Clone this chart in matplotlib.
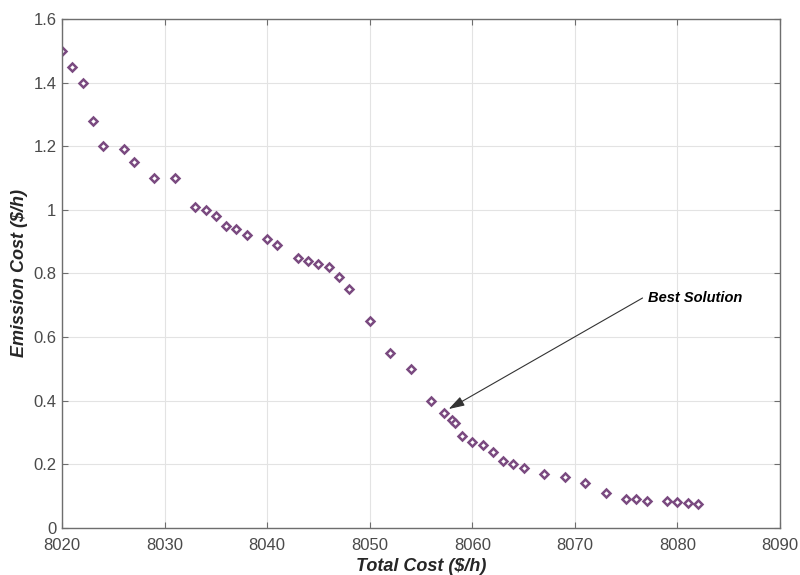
import matplotlib
matplotlib.use("Agg")
from matplotlib import pyplot as plt
from matplotlib.ticker import FormatStrFormatter

# Pareto front: total cost vs emission cost
total_cost = [8020, 8021, 8022, 8023, 8024, 8026, 8027, 8029, 8031, 8033,
              8034, 8035, 8036, 8037, 8038, 8040, 8041, 8043, 8044, 8045,
              8046, 8047, 8048, 8050, 8052, 8054, 8056, 8057.2, 8058, 8058.3,
              8059, 8060, 8061, 8062, 8063, 8064, 8065, 8067, 8069, 8071,
              8073, 8075, 8076, 8077, 8079, 8080, 8081, 8082]
emission_cost = [1.50, 1.45, 1.40, 1.28, 1.20, 1.19, 1.15, 1.10, 1.10, 1.01,
                 1.00, 0.98, 0.95, 0.94, 0.92, 0.91, 0.89, 0.85, 0.84, 0.83,
                 0.82, 0.79, 0.75, 0.65, 0.55, 0.50, 0.40, 0.36, 0.34, 0.33,
                 0.29, 0.27, 0.26, 0.24, 0.21, 0.20, 0.19, 0.17, 0.16, 0.14,
                 0.11, 0.09, 0.09, 0.085, 0.085, 0.082, 0.08, 0.075]
best_idx = 27

x_ticks = [8020, 8030, 8040, 8050, 8060, 8070, 8080, 8090]
y_ticks = [0, 0.2, 0.4, 0.6, 0.8, 1.0, 1.2, 1.4, 1.6]

plt.rcParams['font.family'] = ['Liberation Sans', 'DejaVu Sans']

fig = plt.figure(figsize=(8, 5.75), dpi=100)
ax = fig.add_axes([0.0775, 0.0817, 0.8975, 0.8853])

ax.plot(total_cost, emission_cost, linestyle='none', marker='D',
        markersize=4.3, markerfacecolor='white', markeredgecolor='#7A4A80',
        markeredgewidth=1.8)

ax.set_xlim(8020, 8090)
ax.set_ylim(0, 1.6)
ax.set_xticks(x_ticks)
ax.set_yticks(y_ticks)
ax.yaxis.set_major_formatter(FormatStrFormatter('%g'))
ax.grid(True, color='#e3e3e3', linewidth=0.8)
ax.set_axisbelow(True)

for s in ax.spines.values():
    s.set_color('#6e6e6e')
    s.set_linewidth(1.0)
ax.tick_params(direction='in', top=True, right=True, length=4,
               color='#6e6e6e', labelsize=12, labelcolor='#4a4a4a')
ax.tick_params(axis='x', pad=7)
ax.tick_params(axis='y', pad=4)

ax.set_xlabel('Total Cost ($/h)', fontsize=13, fontweight='bold',
              fontstyle='italic', color='#262626', labelpad=4)
ax.set_ylabel('Emission Cost ($/h)', fontsize=13, fontweight='bold',
              fontstyle='italic', color='#262626', labelpad=4)

# label and arrow pointing at the chosen compromise point
ax.text(8077.1, 0.723, 'Best Solution', fontsize=10.5, fontweight='bold',
        fontstyle='italic', va='center', ha='left')
ax.annotate('',
            xy=(total_cost[best_idx] + 0.5, emission_cost[best_idx] + 0.014),
            xytext=(8076.6, 0.723),
            arrowprops=dict(arrowstyle='-|>,head_length=0.8,head_width=0.25',
                            color='#333333', lw=0.8,
                            shrinkA=0, shrinkB=0, mutation_scale=12))

fig.savefig('out.png', dpi=100)
